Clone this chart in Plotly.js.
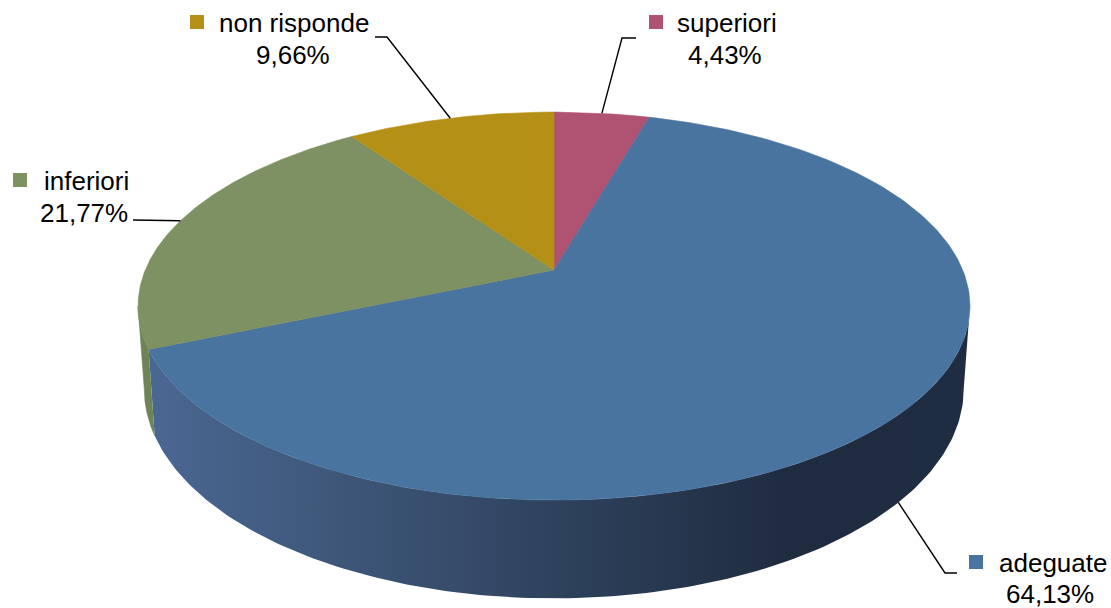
<!DOCTYPE html>
<html>
<head>
<meta charset="utf-8">
<script src="https://cdn.plot.ly/plotly-3.0.1.min.js"></script>
<style>html,body{margin:0;padding:0;background:#fff;}#chart{width:1111px;height:608px;}</style>
</head>
<body>
<div id="chart"></div>
<script>
// ---- data (clockwise from 12 o'clock) ----
const categories = ['superiori', 'adeguate', 'inferiori', 'non risponde'];
const values = [4.43, 64.13, 21.77, 9.66];
const sliceColors = ['#b05373', '#4a74a0', '#7e9162', '#b59016'];
const wallColors = ['#8a3f58', null, '#6e8456', '#8c6f10'];

// ---- geometry of the tilted pie (layout only) ----
const CX = 554, CY = 270, K = 0.186, SX = 408.7, SY = 187.3, T = 80, SHRINK = 0.985;
function topPt(th) {
  const u = Math.sin(th), v = -Math.cos(th), d = 1 - K * v;
  return [CX + SX * u / d, CY + SY * v / d, d];
}
function botPt(th) {
  const p = topPt(th);
  return [CX + (p[0] - CX) * SHRINK, p[1] + T / p[2]];
}
function arc(f, a, b, n) {
  const xs = [], ys = [];
  for (let i = 0; i <= n; i++) {
    const th = a + (b - a) * i / n;
    const p = f(th); xs.push(p[0]); ys.push(p[1]);
  }
  return [xs, ys];
}
// silhouette tangent angles
let thR = Math.PI / 2, thL = 1.5 * Math.PI, maxX = -1e9, minX = 1e9;
for (let i = 0; i <= 3600; i++) {
  const th = i / 3600 * 2 * Math.PI;
  const p = topPt(th);
  if (th < Math.PI && p[0] > maxX) { maxX = p[0]; thR = th; }
  if (th > Math.PI && p[0] < minX) { minX = p[0]; thL = th; }
}

const total = values.reduce((a, b) => a + b, 0);
const starts = [], ends = [];
let acc = 0;
values.forEach(v => { starts.push(acc / total * 2 * Math.PI); acc += v; ends.push(acc / total * 2 * Math.PI); });

const traces = [];
// side walls (front visible part only)
values.forEach((v, i) => {
  const a = Math.max(starts[i], thR), b = Math.min(ends[i], thL);
  if (b <= a) return;
  const t = arc(topPt, a, b, 160), w = arc(botPt, b, a, 160);
  const tr = {
    x: t[0].concat(w[0]), y: t[1].concat(w[1]),
    mode: 'lines', fill: 'toself', hoverinfo: 'skip',
    line: {width: 0.6, color: wallColors[i] || '#2e425d'}
  };
  if (i === 1) {
    tr.fillgradient = {
      type: 'horizontal', start: 140, stop: 975,
      colorscale: [[0, '#4b6894'], [0.2, '#405a7d'], [0.5, '#2e425d'], [0.78, '#1f2b3f'], [1, '#1f2d42']]
    };
    tr.line = {width: 0};
  } else {
    tr.fillcolor = wallColors[i];
  }
  traces.push(tr);
});
// top faces
values.forEach((v, i) => {
  const t = arc(topPt, starts[i], ends[i], 240);
  traces.push({
    x: [CX].concat(t[0], [CX]), y: [CY].concat(t[1], [CY]),
    mode: 'lines', fill: 'toself', fillcolor: sliceColors[i],
    line: {width: 0.6, color: sliceColors[i]}, hoverinfo: 'skip'
  });
});

// label layout
const labelPos = {
  'superiori':    {sq: [649, 15], name: [675, 23], val: [725, 55], elbow: [[622, 38], [636, 38]], bottom: false},
  'adeguate':     {sq: [969, 555], name: [997, 563], val: [1050, 594], elbow: [[945, 573], [957, 573]], bottom: true},
  'inferiori':    {sq: [13, 173], name: [42, 181], val: [84, 213], elbow: [[133, 220]], bottom: false},
  'non risponde': {sq: [190, 15], name: [217, 23], val: [293, 55], elbow: [[387, 37], [375, 37]], bottom: false}
};

const shapes = [], annotations = [];
const FONT = {family: '"Liberation Sans", Arial, sans-serif', size: 26, color: '#000'};
categories.forEach((c, i) => {
  const L = labelPos[c];
  const mid = (starts[i] + ends[i]) / 2;
  const anc = L.bottom ? botPt(mid) : topPt(mid);
  const xs = [anc[0]], ys = [anc[1]];
  L.elbow.forEach(p => { xs.push(p[0]); ys.push(p[1]); });
  traces.push({x: xs, y: ys, mode: 'lines', line: {color: '#000', width: 1.4}, hoverinfo: 'skip'});
  shapes.push({type: 'rect', xref: 'x', yref: 'y', x0: L.sq[0], x1: L.sq[0] + 14, y0: L.sq[1], y1: L.sq[1] + 14,
    fillcolor: sliceColors[i], line: {width: 0}});
  annotations.push({x: L.name[0], y: L.name[1], xref: 'x', yref: 'y', text: c, showarrow: false,
    xanchor: 'left', yanchor: 'middle', font: FONT});
  annotations.push({x: L.val[0], y: L.val[1], xref: 'x', yref: 'y',
    text: values[i].toFixed(2).replace('.', ',') + '%', showarrow: false,
    xanchor: 'center', yanchor: 'middle', font: FONT, borderpad: 0});
});

const layout = {
  width: 1111, height: 608, margin: {l: 0, r: 0, t: 0, b: 0, pad: 0},
  paper_bgcolor: '#fff', plot_bgcolor: '#fff', showlegend: false, hovermode: false,
  xaxis: {range: [0, 1111], visible: false, fixedrange: true},
  yaxis: {range: [608, 0], visible: false, fixedrange: true},
  shapes: shapes, annotations: annotations
};
Plotly.newPlot('chart', traces, layout, {staticPlot: true, displayModeBar: false});
</script>
</body>
</html>
